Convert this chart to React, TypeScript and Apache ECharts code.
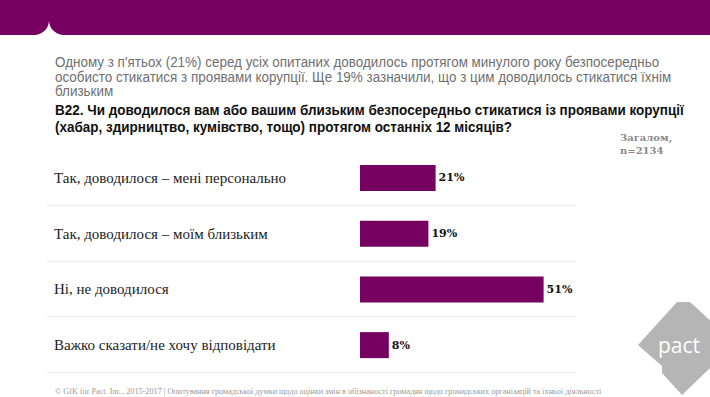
import React, { useEffect, useRef } from "react";
import * as echarts from "echarts";

const categories = [
  "Так, доводилося – мені персонально",
  "Так, доводилося – моїм близьким",
  "Ні, не доводилося",
  "Важко сказати/не хочу відповідати",
];
const values = [21, 19, 51, 8];

const subtitleLines = [
  "Одному з п'ятьох (21%) серед усіх опитаних доводилось протягом минулого року безпосередньо",
  "особисто стикатися з проявами корупції. Ще 19% зазначили, що з цим доводилось стикатися їхнім",
  "близьким",
];
const questionLines = [
  "B22. Чи доводилося вам або вашим близьким безпосередньо стикатися із проявами корупції",
  "(хабар, здирництво, кумівство, тощо) протягом останніх 12 місяців?",
];
const baseLines = ["Загалом,", "n=2134"];
const footer =
  "© GfK for Pact. Inc., 2015-2017 | Опитування громадської думки щодо оцінки змін в обізнаності громадян щодо громадських організацій та їхньої діяльності";

const PURPLE = "#76005f";

let registered = false;
function registerShapes() {
  if (registered) return;
  registered = true;
  echarts.graphic.registerShape(
    "notch",
    echarts.graphic.extendPath("M31,36 Q48,34 49,21 Q50,34 67,36 Z", {}) as any
  );
  echarts.graphic.registerShape(
    "pactlogo",
    echarts.graphic.extendPath(
      "M638,345 L677,302 L690,302 L712,322 L712,366 L682,395 L662,373 L662,366 Z",
      {}
    ) as any
  );
}

export default function App() {
  const ref = useRef<HTMLDivElement>(null);
  useEffect(() => {
    if (!ref.current) return;
    registerShapes();
    const chart = echarts.init(ref.current, null, { renderer: "svg" });
    const gridTop = 150;
    const gridHeight = 223;
    const step = gridHeight / categories.length;
    const graphics: any[] = [
      { type: "rect", shape: { x: 0, y: 0, width: 710, height: 35 }, style: { fill: PURPLE } },
      { type: "notch", x: 0, y: 0, style: { fill: "#ffffff" } },
    ];
    subtitleLines.forEach((t, i) => {
      graphics.push({
        type: "text",
        x: 55,
        y: 62.5 + i * 14.5,
        scaleX: 0.96,
        style: {
          text: t,
          fill: "#707070",
          font: "14px 'Liberation Sans Narrow', 'Liberation Sans', sans-serif",
          verticalAlign: "middle",
        },
      });
    });
    questionLines.forEach((t, i) => {
      graphics.push({
        type: "text",
        x: 55,
        y: 110.5 + i * 17,
        scaleX: 0.963,
        style: {
          text: t,
          fill: "#111111",
          font: "bold 14px 'Liberation Sans Narrow', 'Liberation Sans', sans-serif",
          verticalAlign: "middle",
        },
      });
    });
    baseLines.forEach((t, i) => {
      graphics.push({
        type: "text",
        x: 620,
        y: 137 + i * 13,
        style: {
          text: t,
          fill: "#8a8a8a",
          font: "bold 10px 'DejaVu Serif', serif",
          verticalAlign: "middle",
        },
      });
    });
    for (let i = 1; i <= categories.length; i++) {
      const y = Math.round(gridTop + i * step - 1) + 0.5;
      graphics.push({
        type: "line",
        shape: { x1: 47, y1: y, x2: 576, y2: y },
        style: { stroke: "#efefef", lineWidth: 1.5 },
      });
    }
    graphics.push({
      type: "text",
      x: 55,
      y: 391,
      style: {
        text: footer,
        fill: "#9a9a9a",
        font: "8.2px 'Liberation Serif', serif",
        verticalAlign: "middle",
      },
    });
    graphics.push({ type: "pactlogo", x: 0, y: 0, style: { fill: "#b5b5b5" } });
    graphics.push({
      type: "text",
      x: 679,
      y: 345,
      style: {
        text: "pact",
        fill: "#ffffff",
        font: "21px 'Open Sans', sans-serif",
        align: "center",
        verticalAlign: "middle",
      },
    });

    chart.setOption({
      animation: false,
      backgroundColor: "#ffffff",
      grid: { left: 360, top: gridTop, height: gridHeight, width: 216, containLabel: false },
      xAxis: {
        type: "value",
        min: 0,
        max: 60,
        show: false,
      },
      yAxis: {
        type: "category",
        inverse: true,
        data: categories,
        axisLine: { show: false },
        axisTick: { show: false },
        splitLine: { show: false },
        axisLabel: {
          align: "left",
          margin: 306,
          color: "#222222",
          fontFamily: "'Liberation Serif', serif",
          fontSize: 15,
        },
      },
      series: [
        {
          type: "bar",
          data: values,
          barWidth: 26,
          itemStyle: { color: PURPLE },
          label: {
            show: true,
            position: "right",
            distance: 3,
            formatter: "{c}%",
            color: "#111111",
            fontFamily: "'DejaVu Serif', serif",
            fontWeight: "bold",
            fontSize: 11,
          },
        },
      ],
      graphic: graphics,
    });
    return () => chart.dispose();
  }, []);
  return (
    <div
      ref={ref}
      style={{ position: "absolute", left: 0, top: 0, width: 710, height: 397 }}
    />
  );
}
